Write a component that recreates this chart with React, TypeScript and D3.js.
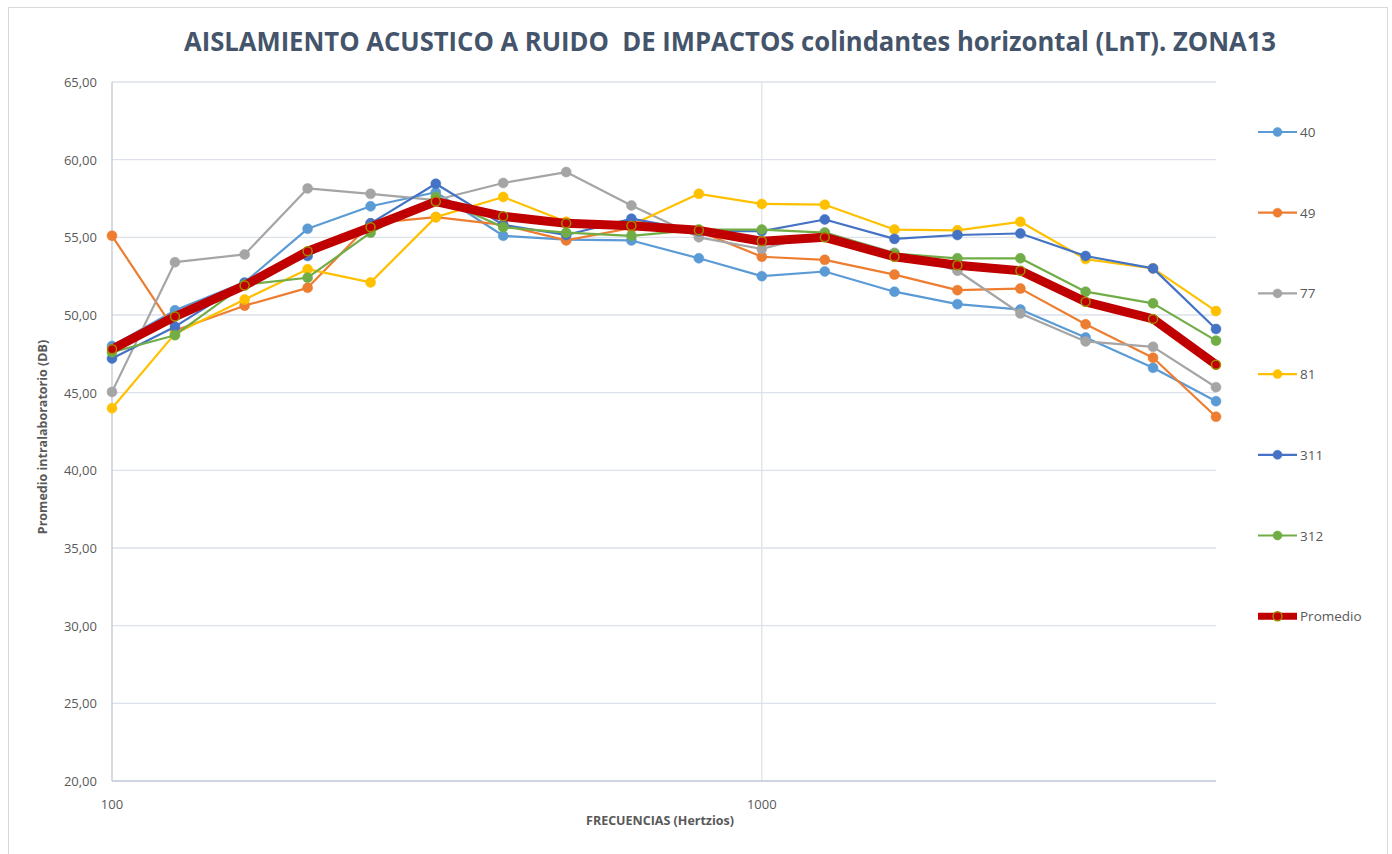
import React, { useEffect, useRef } from 'react';
import * as d3 from 'd3';

const frequencies = [100, 125, 160, 200, 250, 315, 400, 500, 630, 800, 1000, 1250, 1600, 2000, 2500, 3150, 4000, 5000];

const lab40 = [48.0, 50.3, 52.1, 55.55, 57.0, 57.9, 55.1, 54.85, 54.8, 53.65, 52.5, 52.8, 51.5, 50.7, 50.35, 48.55, 46.6, 44.45];
const lab49 = [55.1, 49.0, 50.6, 51.75, 55.9, 56.3, 55.8, 54.8, 55.6, 55.4, 53.75, 53.55, 52.6, 51.6, 51.7, 49.4, 47.25, 43.45];
const lab77 = [45.05, 53.4, 53.9, 58.15, 57.8, 57.4, 58.5, 59.2, 57.05, 55.0, 54.25, 55.3, 54.0, 52.85, 50.1, 48.3, 47.95, 45.35];
const lab81 = [44.0, 48.8, 51.0, 52.95, 52.1, 56.3, 57.6, 56.0, 55.8, 57.8, 57.15, 57.1, 55.5, 55.45, 56.0, 53.6, 53.0, 50.25];
const lab311 = [47.2, 49.25, 52.05, 53.8, 55.9, 58.45, 55.8, 55.15, 56.2, 55.4, 55.4, 56.15, 54.9, 55.15, 55.25, 53.8, 53.0, 49.1];
const lab312 = [47.6, 48.7, 51.95, 52.4, 55.3, 57.6, 55.65, 55.3, 55.1, 55.5, 55.5, 55.3, 53.95, 53.65, 53.65, 51.5, 50.75, 48.35];
const promedio = [47.8, 49.9, 51.9, 54.1, 55.65, 57.3, 56.35, 55.9, 55.75, 55.45, 54.75, 55.0, 53.75, 53.2, 52.85, 50.85, 49.75, 46.8];

const seriesNames = ['40', '49', '77', '81', '311', '312', 'Promedio'];
const seriesValues = [lab40, lab49, lab77, lab81, lab311, lab312, promedio];
const seriesColors = ['#5B9BD5', '#ED7D31', '#A5A5A5', '#FFC000', '#4472C4', '#70AD47', '#C00000'];

const yTicks = [20, 25, 30, 35, 40, 45, 50, 55, 60, 65];
const xTicks = [100, 1000];

const App = () => {
  const ref = useRef<SVGSVGElement>(null);

  useEffect(() => {
    const svg = d3.select(ref.current);
    svg.selectAll('*').remove();

    const left = 112;
    const right = 1216;
    const top = 82;
    const bottom = 781;

    const x = d3.scaleLog().domain([100, 5000]).range([left, right]);
    const y = d3.scaleLinear().domain([20, 65]).range([bottom, top]);

    // chart frame
    svg
      .append('rect')
      .attr('x', 8.5)
      .attr('y', 7.5)
      .attr('width', 1379)
      .attr('height', 850)
      .attr('fill', '#fff')
      .attr('stroke', '#D9D9D9');

    // title (double space kept as in the source)
    svg
      .append('text')
      .attr('x', 730)
      .attr('y', 51)
      .attr('text-anchor', 'middle')
      .attr('textLength', 1092)
      .attr('lengthAdjust', 'spacingAndGlyphs')
      .style('white-space', 'pre')
      .style('font-family', 'Open Sans')
      .style('font-size', '26px')
      .style('font-weight', 'bold')
      .style('fill', '#44546A')
      .text('AISLAMIENTO ACUSTICO A RUIDO  DE IMPACTOS colindantes horizontal (LnT). ZONA13');

    // gridlines
    svg
      .append('g')
      .selectAll('line')
      .data(yTicks.slice(1))
      .enter()
      .append('line')
      .attr('x1', left)
      .attr('x2', right)
      .attr('y1', (d) => y(d))
      .attr('y2', (d) => y(d))
      .attr('stroke', '#DDE2EA')
      .attr('stroke-width', 1.3);

    svg
      .append('line')
      .attr('x1', x(1000))
      .attr('x2', x(1000))
      .attr('y1', top)
      .attr('y2', bottom)
      .attr('stroke', '#DDE2EA')
      .attr('stroke-width', 1.3);

    // axis lines
    svg
      .append('line')
      .attr('x1', left)
      .attr('x2', left)
      .attr('y1', top)
      .attr('y2', bottom)
      .attr('stroke', '#BFC7D5')
      .attr('stroke-width', 1.3);
    svg
      .append('line')
      .attr('x1', left)
      .attr('x2', right)
      .attr('y1', bottom)
      .attr('y2', bottom)
      .attr('stroke', '#BFC7D5')
      .attr('stroke-width', 1.3);

    // y tick labels
    svg
      .append('g')
      .selectAll('text')
      .data(yTicks)
      .enter()
      .append('text')
      .attr('x', 97)
      .attr('y', (d) => y(d) + 5)
      .attr('text-anchor', 'end')
      .style('font-family', 'Open Sans')
      .style('font-size', '13px')
      .style('fill', '#595959')
      .text((d) => d.toFixed(2).replace('.', ','));

    // x tick labels
    svg
      .append('g')
      .selectAll('text')
      .data(xTicks)
      .enter()
      .append('text')
      .attr('x', (d) => x(d))
      .attr('y', bottom + 28)
      .attr('text-anchor', 'middle')
      .style('font-family', 'Open Sans')
      .style('font-size', '13px')
      .style('fill', '#595959')
      .text((d) => String(d));

    // axis titles
    svg
      .append('text')
      .attr('x', 660)
      .attr('y', 825)
      .attr('text-anchor', 'middle')
      .style('font-family', 'Open Sans')
      .style('font-size', '12.5px')
      .style('font-weight', 'bold')
      .style('fill', '#595959')
      .text('FRECUENCIAS (Hertzios)');

    svg
      .append('text')
      .attr('text-anchor', 'middle')
      .attr('transform', `translate(47, 437) rotate(-90)`)
      .style('font-family', 'Open Sans')
      .style('font-size', '12.5px')
      .style('font-weight', 'bold')
      .style('fill', '#595959')
      .text('Promedio intralaboratorio (DB)');

    const line = d3
      .line<number>()
      .x((_, i) => x(frequencies[i]))
      .y((d) => y(d));

    seriesValues.forEach((vals, si) => {
      const isAvg = si === seriesValues.length - 1;
      const color = seriesColors[si];
      const g = svg.append('g');
      g.append('path')
        .datum(vals)
        .attr('d', line)
        .attr('fill', 'none')
        .attr('stroke', color)
        .attr('stroke-width', isAvg ? 9 : 2.2)
        .attr('stroke-linejoin', 'round');
      g.selectAll('circle')
        .data(vals)
        .enter()
        .append('circle')
        .attr('cx', (_, i) => x(frequencies[i]))
        .attr('cy', (d) => y(d))
        .attr('r', isAvg ? 4.5 : 5)
        .attr('fill', color)
        .attr('stroke', isAvg ? '#A08A00' : color)
        .attr('stroke-width', isAvg ? 1.5 : 0.5);
    });

    // legend
    const legend = svg
      .append('g')
      .selectAll('g')
      .data(seriesNames)
      .enter()
      .append('g')
      .attr('transform', (_, i) => `translate(1258, ${132 + i * 80.7})`);

    legend
      .append('line')
      .attr('x1', 0)
      .attr('x2', 39)
      .attr('stroke', (_, i) => seriesColors[i])
      .attr('stroke-width', (_, i) => (i === seriesNames.length - 1 ? 7 : 2.2));

    legend
      .append('circle')
      .attr('cx', 19.5)
      .attr('r', 4.5)
      .attr('fill', (_, i) => seriesColors[i])
      .attr('stroke', (_, i) => (i === seriesNames.length - 1 ? '#A08A00' : seriesColors[i]))
      .attr('stroke-width', (_, i) => (i === seriesNames.length - 1 ? 1.5 : 0.5));

    legend
      .append('text')
      .attr('x', 42)
      .attr('y', 5)
      .style('font-family', 'Open Sans')
      .style('font-size', '13.5px')
      .style('fill', '#595959')
      .text((d) => d);
  }, []);

  return (
    <svg
      ref={ref}
      width={1392}
      height={854}
      style={{ position: 'absolute', left: 0, top: 0, background: '#fff' }}
    ></svg>
  );
};

export default App;
